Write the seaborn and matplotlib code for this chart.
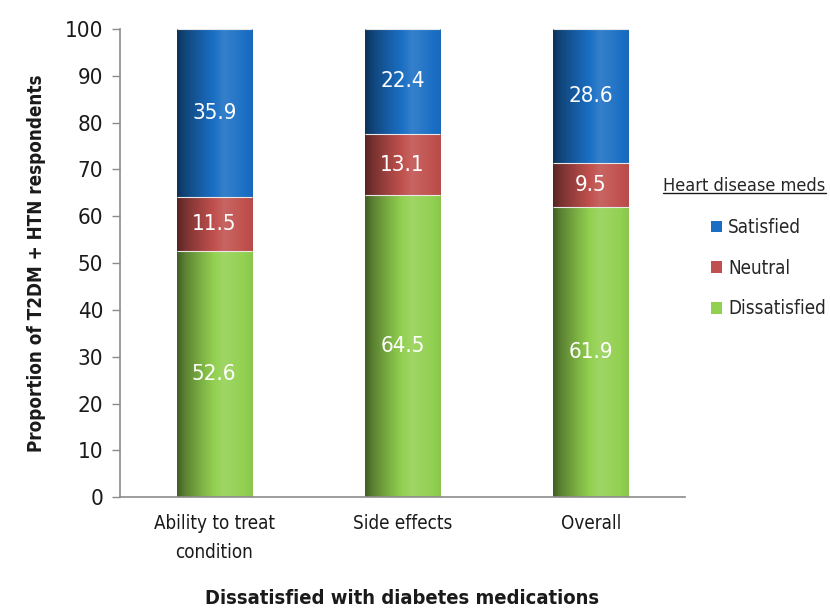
import numpy as np
import pandas as pd
import matplotlib
matplotlib.use("Agg")
import matplotlib.pyplot as plt
from matplotlib.lines import Line2D
from matplotlib.patches import Patch
import seaborn as sns

# Survey results (% of T2DM + HTN respondents)
categories = ["Ability to treat\ncondition", "Side effects", "Overall"]
dissatisfied = [52.6, 64.5, 61.9]
neutral = [11.5, 13.1, 9.5]
satisfied = [35.9, 22.4, 28.6]

series_names = ["Satisfied", "Neutral", "Dissatisfied"]
colors = {"Satisfied": "#1a6fc4", "Neutral": "#c0504d", "Dissatisfied": "#92d050"}

sns.set_theme(style="white")
plt.rcParams["font.family"] = ["DejaVu Sans"]
plt.rcParams["font.stretch"] = "condensed"

df = pd.DataFrame({"category": categories,
                   "Dissatisfied": dissatisfied,
                   "Neutral": neutral,
                   "Satisfied": satisfied})
df["low"] = df["Dissatisfied"]
df["mid"] = df["Dissatisfied"] + df["Neutral"]
df["top"] = df["mid"] + df["Satisfied"]

fig = plt.figure(figsize=(8.3, 6.1), dpi=100)
ax = fig.add_axes([0.1446, 0.185, 0.6807, 0.7675])

# stacked bars: draw cumulative totals back-to-front
for col, name in [("top", "Satisfied"), ("mid", "Neutral"), ("low", "Dissatisfied")]:
    sns.barplot(data=df, x="category", y=col, color=colors[name], width=0.4,
                saturation=1, ax=ax, errorbar=None, edgecolor="none", linewidth=0)

ax.set_xlim(-0.5, 2.5)
ax.set_ylim(0, 100)


def shade(rgb):
    # cylindrical shading across the bar: dark left edge, highlight right of centre
    t = np.linspace(0, 1, 200)
    f = np.interp(t, [0, 0.1, 0.35, 0.62, 0.8, 1.0], [0.45, 0.62, 0.88, 1.12, 1.05, 0.95])
    base = np.array(rgb)[None, :]
    out = np.where(f[:, None] <= 1, base * f[:, None],
                   base + (1 - base) * (f[:, None] - 1) * 1.0)
    return np.clip(out, 0, 1)[None, :, :]


fill_colors = [colors["Satisfied"]] * 3 + [colors["Neutral"]] * 3 + [colors["Dissatisfied"]] * 3
for patch, c in zip(list(ax.patches), fill_colors):
    x0, y0 = patch.get_x(), patch.get_y()
    w, h = patch.get_width(), patch.get_height()
    img = ax.imshow(shade(matplotlib.colors.to_rgb(c)), extent=[x0, x0 + w, y0, y0 + h],
                    aspect="auto", zorder=patch.get_zorder() + 0.1, interpolation="bilinear")
    img.set_clip_path(patch)
    patch.set_alpha(0)
    # thin light edge on top of each segment
    ax.plot([x0, x0 + w], [y0 + h, y0 + h], color="#e8e8e8", lw=0.8,
            zorder=patch.get_zorder() + 0.2, solid_capstyle="butt")
ax.set_ylim(0, 100)
ax.set_xlim(-0.5, 2.5)

# value labels
for i in range(len(categories)):
    segs = [(0, dissatisfied[i]),
            (dissatisfied[i], neutral[i]),
            (dissatisfied[i] + neutral[i], satisfied[i])]
    for b, v in segs:
        ax.text(i, b + v / 2, f"{v:.1f}", ha="center", va="center",
                color="white", fontsize=16, zorder=10)

ax.set_yticks(np.arange(0, 101, 10))
ax.tick_params(axis="y", which="both", left=True, length=6, width=1, color="#8c8c8c",
               labelsize=16, pad=6, labelcolor="#1a1a1a")
ax.tick_params(axis="x", bottom=False, labelsize=13.5, pad=6, labelcolor="#1a1a1a")
for lab in ax.get_xticklabels():
    lab.set_linespacing(1.65)
for s in ["top", "right"]:
    ax.spines[s].set_visible(False)
for s in ["left", "bottom"]:
    ax.spines[s].set_color("#8c8c8c")
    ax.spines[s].set_linewidth(1.2)

ax.set_xlabel("Dissatisfied with diabetes medications", fontsize=14.5, fontweight="bold",
              color="#1a1a1a", va="center")
ax.xaxis.set_label_coords(0.5, -0.216)
ax.set_ylabel("Proportion of T2DM + HTN respondents", fontsize=13.5, fontweight="bold",
              color="#1a1a1a", va="center")
ax.yaxis.set_label_coords(-0.147, 0.5)

handles = [Patch(facecolor=colors[n], edgecolor="none") for n in series_names]
leg = fig.legend(handles, series_names, title="Heart disease meds",
                 loc="upper left", bbox_to_anchor=(0.788, 0.726), frameon=False,
                 fontsize=13.5, title_fontsize=13, handlelength=0.6, handleheight=0.6,
                 handletextpad=0.3, labelspacing=1.15, borderpad=0)
leg._legend_box.sep = 17
leg._legend_box.align = "right"

fig.canvas.draw()
bb = leg.get_title().get_window_extent().transformed(fig.transFigure.inverted())
fig.add_artist(Line2D([bb.x0, bb.x1], [bb.y0 + 0.002, bb.y0 + 0.002],
                      transform=fig.transFigure, color="#1a1a1a", lw=1))

fig.savefig("out.png", dpi=100)
